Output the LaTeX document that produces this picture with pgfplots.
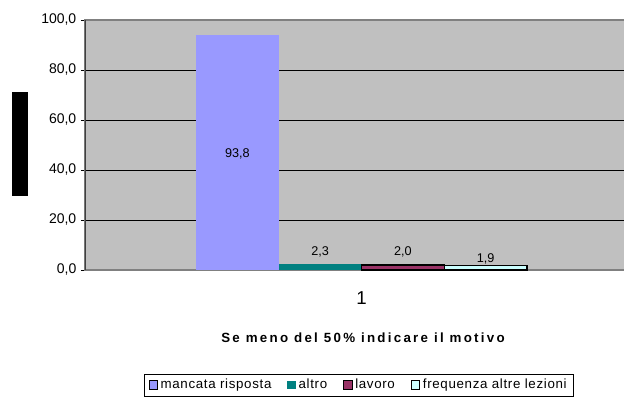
\documentclass[border=0pt]{standalone}
\usepackage{fontspec}
\setmainfont{Liberation Sans}
\newfontfamily\titlefont[LetterSpace=17]{Liberation Sans}
\newfontfamily\legfont[LetterSpace=5]{Liberation Sans}
\usepackage{pgfplots}
\pgfplotsset{compat=1.18}
\definecolor{plotbg}{HTML}{C0C0C0}
\definecolor{lavender}{HTML}{9999FF}
\definecolor{tealbar}{HTML}{008080}
\definecolor{plum}{HTML}{993366}
\definecolor{paleaqua}{HTML}{CCFFFF}
\begin{document}
\begin{tikzpicture}
% canvas: 1px = 0.75pt, plot area lower left at origin
\path[use as bounding box] (-63.75pt,-102pt) rectangle (404.25pt,202.5pt);
\begin{axis}[
  at={(0,0)}, anchor=south west,
  scale only axis, width=406.5pt, height=187.5pt,
  xmin=0.1647, xmax=1.8021, ymin=0, ymax=100,
  ybar, bar width=0.25,
  axis background/.style={fill=plotbg},
  axis line style={draw=gray, line width=0.8pt},
  ytick={0,20,...,100}, ytick pos=left,
  ymajorgrids, grid style={black, line width=0.6pt},
  tick align=outside, major tick length=3pt,
  ytick style={black, line width=0.6pt},
  xtick={1}, xticklabels={1}, xtick style={draw=none},
  yticklabel style={font=\fontsize{10.5}{12}\selectfont},
  xticklabel style={font=\fontsize{14}{16}\selectfont, yshift=-10pt},
  nodes near coords style={font=\fontsize{9.5}{11}\selectfont, anchor=center},
  legend columns=4,
  legend style={at={(0.5055,-0.46)}, anchor=center, draw=black, fill=white,
    font=\legfont\fontsize{10}{12}\selectfont, inner ysep=1.8pt,
    /tikz/every even column/.append style={column sep=10pt}},
  /pgf/number format/use comma,
  /pgf/number format/fixed,
  /pgf/number format/fixed zerofill,
  /pgf/number format/precision=1,
  /pgf/number format/assume math mode=true,
]
\addplot[fill=lavender, draw=none, bar shift=-0.375, nodes near coords,
  every node near coord/.append style={yshift=-88.5pt},
  legend image code/.code={\draw[fill=lavender, draw=black, line width=0.6pt] (0pt,-3.2pt) rectangle (6.4pt,3.2pt);}]
  coordinates {(1,93.8)};
\addlegendentry{mancata risposta}
\addplot[fill=tealbar, draw=none, bar shift=-0.125, nodes near coords,
  every node near coord/.append style={yshift=9.5pt},
  legend image code/.code={\fill[tealbar] (0pt,-3.2pt) rectangle (6.4pt,3.2pt);}]
  coordinates {(1,2.3)};
\addlegendentry{altro}
\addplot[fill=plum, draw=black, line width=0.8pt, bar shift=0.125, nodes near coords,
  every node near coord/.append style={yshift=10pt},
  legend image code/.code={\draw[fill=plum, draw=black, line width=0.6pt] (0pt,-3.2pt) rectangle (6.4pt,3.2pt);}]
  coordinates {(1,2.0)};
\addlegendentry{lavoro}
\addplot[fill=paleaqua, draw=black, line width=0.8pt, bar shift=0.375, nodes near coords,
  every node near coord/.append style={yshift=5pt},
  legend image code/.code={\draw[fill=paleaqua, draw=black, line width=0.6pt] (0pt,-3.2pt) rectangle (6.4pt,3.2pt);}]
  coordinates {(1,1.9)};
\addlegendentry{frequenza altre lezioni}
\draw[black!75, line width=0.8pt] (rel axis cs:0,0) -- (rel axis cs:0,1);
\end{axis}
\node[font=\titlefont\bfseries\fontsize{10}{12}\selectfont] at (208.5pt,-51pt) {Se meno del 50\% indicare il motivo};
\fill[black] (-54.75pt,55.5pt) rectangle (-42.75pt,133.5pt);
\end{tikzpicture}
\end{document}
